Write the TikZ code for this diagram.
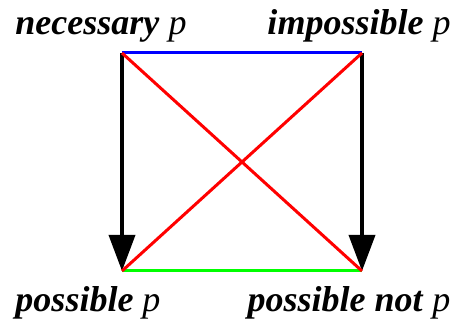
\documentclass[tikz,border=0pt]{standalone}
\usepackage{fontspec}
\setmainfont{Liberation Serif}[
  ItalicFont={Liberation Serif Italic},
  BoldItalicFont={Liberation Serif Bold Italic}]
\usetikzlibrary{arrows.meta}

\begin{document}
\begin{tikzpicture}[x=1pt,y=1pt,
  lbl/.style={font=\rmfamily\fontsize{36}{40}\selectfont, inner sep=0pt, anchor=base},
  side/.style={line width=3pt},
  arr/.style={line width=3.6pt,-{Triangle[length=36pt,width=26pt]}}]
\useasboundingbox (0,0) rectangle (461,326);
% corners of the square
\coordinate (nec)  at (122,273);
\coordinate (imp)  at (362,273);
\coordinate (pos)  at (122,55);
\coordinate (posn) at (362,55);
% labels
\node[lbl] (lnec)  at (101,291) {\textbf{\textit{necessary}} \textit{p}};
\node[lbl] (limp)  at (359,291) {\textbf{\textit{impossible}} \textit{p}};
\node[lbl] (lpos)  at (88,14)   {\textbf{\textit{possible}} \textit{p}};
\node[lbl] (lposn) at (349,14)  {\textbf{\textit{possible not}} \textit{p}};
% arrows down
\draw[arr] (nec) -- (pos);
\draw[arr] (imp) -- (posn);
% sides
\draw[side,blue]  (nec) -- (imp);
\draw[side,green] (pos) -- (posn);
% diagonals
\draw[side,red] (nec) -- (posn);
\draw[side,red] (imp) -- (pos);
\end{tikzpicture}
\end{document}
